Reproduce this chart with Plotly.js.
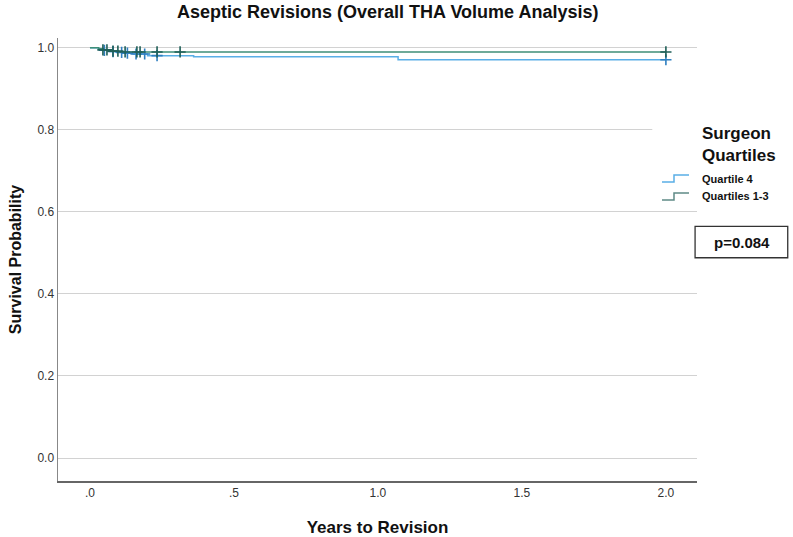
<!DOCTYPE html>
<html><head><meta charset="utf-8">
<script src="https://cdn.plot.ly/plotly-3.0.1.min.js"></script>
<style>body{margin:0;background:#fff}#chart{width:793px;height:537px}</style>
</head><body><div id="chart"></div>
<script>
// Quartile 4 (Kaplan-Meier step curve)
const q4Time = [0, 0.03, 0.05, 0.07, 0.09, 0.12, 0.15, 0.20, 0.36, 1.07, 2.0];
const q4Surv = [1.0, 0.997, 0.994, 0.991, 0.989, 0.987, 0.985, 0.981, 0.978, 0.971, 0.971];
const q4CensTime = [0.05, 0.08, 0.11, 0.13, 0.16, 0.19, 0.233, 2.0];
const q4CensSurv = [0.994, 0.991, 0.989, 0.987, 0.985, 0.985, 0.981, 0.971];
// Quartiles 1-3
const q13Time = [0, 0.03, 0.05, 0.07, 0.10, 2.0];
const q13Surv = [1.0, 0.998, 0.995, 0.992, 0.990, 0.990];
const q13CensTime = [0.045, 0.059, 0.08, 0.097, 0.122, 0.163, 0.174, 0.233, 0.313, 2.0];
const q13CensSurv = [0.995, 0.995, 0.992, 0.992, 0.990, 0.990, 0.990, 0.990, 0.990, 0.990];
const xTickVals = [0, 0.5, 1.0, 1.5, 2.0];
const xTickText = [".0", ".5", "1.0", "1.5", "2.0"];
const yTickVals = [0, 0.2, 0.4, 0.6, 0.8, 1.0];
const legendTitle = ["Surgeon", "Quartiles"];
const legendLabels = ["Quartile 4", "Quartiles 1-3"];
const pValueText = "p=0.084";

const blue = "#5aaee6", green = "#3f8f78";
const traces = [
  {x: q4Time, y: q4Surv, mode: "lines", line: {shape: "hv", color: blue, width: 1.5}, hoverinfo: "skip"},
  {x: q13Time, y: q13Surv, mode: "lines", line: {shape: "hv", color: green, width: 1.5}, hoverinfo: "skip"},
  {x: q4CensTime, y: q4CensSurv, mode: "markers", marker: {symbol: "cross-thin", size: 8, line: {color: "#2f7fc0", width: 1.6}}, hoverinfo: "skip"},
  {x: q13CensTime, y: q13CensSurv, mode: "markers", marker: {symbol: "cross-thin", size: 8, line: {color: "#1f5f58", width: 1.6}}, hoverinfo: "skip"}
];
const F = "Liberation Sans, Arial, sans-serif";
const layout = {
  width: 793, height: 537,
  margin: {l: 58, r: 96, t: 38, b: 56},
  paper_bgcolor: "#fff", plot_bgcolor: "#fff",
  showlegend: false,
  title: {text: "Aseptic Revisions (Overall THA Volume Analysis)", font: {family: "Liberation Sans Narrow, Arial Narrow, sans-serif", size: 18, color: "#111", weight: "bold"}, x: 0.489, xanchor: "center", y: 0.978, yanchor: "middle"},
  xaxis: {range: [-0.111, 2.108], tickvals: xTickVals, ticktext: xTickText, showgrid: false, zeroline: false,
    showline: true, linecolor: "#666", linewidth: 1.5, ticks: "", tickfont: {family: "Liberation Sans Narrow, Arial, sans-serif", size: 12, color: "#333"},
    title: {text: "Years to Revision", font: {family: F, size: 17, color: "#111", weight: "bold"}, standoff: 22}},
  yaxis: {range: [-0.056, 1.024], tickvals: yTickVals, tickformat: ".1f", showgrid: true, gridcolor: "#d2d2d2", gridwidth: 1, zeroline: false,
    showline: true, linecolor: "#888", linewidth: 1.5, ticks: "", tickfont: {family: "Liberation Sans Narrow, Arial, sans-serif", size: 12, color: "#333"},
    title: {text: "Survival Probability", font: {family: F, size: 16, color: "#111", weight: "bold"}, standoff: 12}},
  shapes: [
    {type: "rect", xref: "paper", yref: "y", x0: 0.93, x1: 1.0, y0: 0.795, y1: 0.805, fillcolor: "#fff", line: {width: 0}, layer: "above"},
    {type: "rect", xref: "paper", yref: "paper", x0: 0.997, x1: 1.142, y0: 0.504, y1: 0.575, fillcolor: "rgba(0,0,0,0)", line: {color: "#333", width: 1.3}}
  ],
  annotations: [
    {xref: "paper", yref: "paper", x: 1.005, y: 0.7585, xanchor: "left", yanchor: "middle", text: legendTitle.join("<br>"), align: "left", showarrow: false, font: {family: F, size: 17, color: "#111", weight: "bold"}},
    {xref: "paper", yref: "paper", x: 1.005, y: 0.6817, xanchor: "left", yanchor: "middle", text: legendLabels[0], showarrow: false, font: {family: F, size: 11, color: "#111", weight: "bold"}},
    {xref: "paper", yref: "paper", x: 1.005, y: 0.6433, xanchor: "left", yanchor: "middle", text: legendLabels[1], showarrow: false, font: {family: F, size: 11, color: "#111", weight: "bold"}},
    {xref: "paper", yref: "paper", x: 1.071, y: 0.539, xanchor: "center", yanchor: "middle", text: pValueText, showarrow: false, font: {family: F, size: 15, color: "#111", weight: "bold"}}
  ]
};
// legend step icons (pixel positions converted to paper coords)
const pw = 793 - 58 - 96, ph = 537 - 38 - 56;
function px(x) { return (x - 58) / pw; }
function py(y) { return (537 - 56 - y) / ph; }
function stepIcon(yc, color) {
  return {type: "path", xref: "paper", yref: "paper",
    path: `M ${px(662)} ${py(yc + 3.5)} L ${px(674)} ${py(yc + 3.5)} L ${px(674)} ${py(yc - 3.5)} L ${px(689)} ${py(yc - 3.5)}`,
    line: {color: color, width: 1.5}};
}
layout.shapes.push(stepIcon(178.5, "#5aaee6"));
layout.shapes.push(stepIcon(196.5, "#5f8a86"));
Plotly.newPlot("chart", traces, layout, {displayModeBar: false, staticPlot: true});
</script></body></html>
